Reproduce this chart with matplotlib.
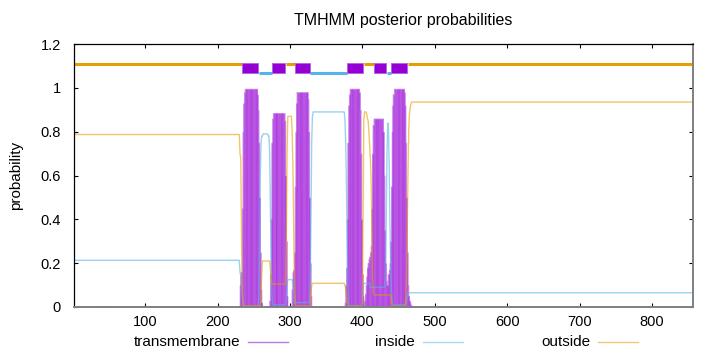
import numpy as np
import matplotlib
matplotlib.use('Agg')
import matplotlib.pyplot as plt
from matplotlib.lines import Line2D

plt.rcParams.update({
    'font.family': ['Liberation Sans', 'DejaVu Sans'],
    'font.size': 10.5,
    'xtick.direction': 'in',
    'ytick.direction': 'in',
    'xtick.top': True,
    'ytick.right': True,
    'xtick.major.size': 3,
    'ytick.major.size': 3,
})

# sequence length and predicted topology (residue ranges)
n_res = 856
outside_seg = [(1, 233), (294, 306), (402, 415), (463, 856)]
inside_seg = [(257, 274), (328, 378), (434, 439)]
tm_seg = [(234, 256), (275, 293), (307, 327), (379, 401), (416, 433), (440, 462)]

# posterior probabilities: (first residue, value) steps
tm_steps = [(1, 0), (33, 0.004), (52, 0), (231, 0.1), (232, 0.14), (233, 0.16),
            (234, 0.45), (235, 0.8), (236, 0.93), (237, 0.98), (238, 0.996),
            (255, 0.97), (256, 0.9), (257, 0.75), (258, 0.5), (259, 0.25),
            (260, 0.08), (261, 0.02), (262, 0),
            (272, 0.03), (273, 0.15), (274, 0.4), (275, 0.75), (276, 0.86),
            (277, 0.885), (293, 0.85), (294, 0.6), (295, 0.3), (296, 0.05),
            (297, 0.005), (303, 0.08), (304, 0.16), (305, 0.17), (306, 0.25),
            (307, 0.55), (308, 0.8), (309, 0.93), (310, 0.98), (325, 0.95),
            (326, 0.8), (327, 0.5), (328, 0.2), (329, 0.05), (330, 0),
            (376, 0.02), (377, 0.1), (378, 0.18), (379, 0.4), (380, 0.75),
            (381, 0.92), (382, 0.97), (383, 0.996), (396, 0.98), (397, 0.9),
            (398, 0.7), (399, 0.4), (400, 0.15), (401, 0.05), (402, 0.01),
            (403, 0.03), (404, 0.06), (405, 0.1), (406, 0.14), (407, 0.18),
            (408, 0.2), (409, 0.22), (410, 0.23), (411, 0.25), (412, 0.28),
            (413, 0.45), (414, 0.7), (415, 0.83), (416, 0.86), (429, 0.8),
            (430, 0.6), (431, 0.35), (432, 0.2), (433, 0.12), (434, 0.1),
            (436, 0.15), (437, 0.17), (438, 0.2), (439, 0.3), (440, 0.55),
            (441, 0.8), (442, 0.92), (443, 0.97), (444, 0.996), (458, 0.98),
            (459, 0.92), (460, 0.75), (461, 0.5), (462, 0.25), (463, 0.1),
            (464, 0.05), (465, 0.03), (466, 0.02), (467, 0.01), (468, 0)]

inside_steps = [(1, 0.213), (231, 0.16), (232, 0.14), (233, 0.13), (234, 0.06),
                (235, 0.02), (236, 0.003), (257, 0.05), (258, 0.3), (259, 0.6),
                (260, 0.74), (261, 0.78), (263, 0.79), (270, 0.78), (272, 0.7),
                (273, 0.45), (274, 0.2), (275, 0.06), (276, 0.01), (295, 0.05),
                (296, 0.1), (297, 0.125), (304, 0.1), (305, 0.06), (306, 0.02),
                (328, 0.1), (329, 0.4), (330, 0.75), (331, 0.87), (332, 0.89),
                (376, 0.85), (377, 0.75), (378, 0.55), (379, 0.3), (380, 0.1),
                (381, 0.02), (382, 0.005), (401, 0.08), (402, 0.108), (411, 0.09),
                (432, 0.15), (433, 0.4), (434, 0.7), (435, 0.84), (436, 0.83),
                (437, 0.65), (438, 0.4), (439, 0.2), (440, 0.08), (441, 0.03),
                (442, 0.01), (461, 0.03), (462, 0.05), (463, 0.065)]

outside_steps = [(1, 0.787), (231, 0.7), (232, 0.68), (233, 0.35), (234, 0.08),
                 (235, 0.02), (236, 0.005), (260, 0.05), (261, 0.15), (262, 0.21),
                 (273, 0.17), (274, 0.12), (275, 0.105), (295, 0.3), (296, 0.7),
                 (297, 0.87), (303, 0.8), (304, 0.65), (305, 0.4), (306, 0.15),
                 (307, 0.04), (308, 0.01), (309, 0.005), (329, 0.05), (330, 0.1),
                 (331, 0.108), (376, 0.1), (377, 0.08), (378, 0.05), (379, 0.03),
                 (380, 0.01), (381, 0.004), (401, 0.4), (402, 0.85), (403, 0.89),
                 (406, 0.88), (407, 0.86), (408, 0.85), (409, 0.8), (410, 0.74),
                 (411, 0.68), (412, 0.6), (413, 0.4), (414, 0.15), (415, 0.07),
                 (416, 0.055), (440, 0.03), (441, 0.004), (460, 0.03), (461, 0.15),
                 (462, 0.35), (463, 0.6), (464, 0.8), (465, 0.88), (466, 0.91),
                 (467, 0.925), (468, 0.935)]


def expand(steps, n):
    vals = np.zeros(n)
    for i, (start, v) in enumerate(steps):
        end = steps[i + 1][0] if i + 1 < len(steps) else n + 1
        vals[start - 1:end - 1] = v
    return vals


res = np.arange(1, n_res + 1)
tm = expand(tm_steps, n_res)
inside = expand(inside_steps, n_res)
outside = expand(outside_steps, n_res)

c_tm = '#9400d3'
c_in = '#56b4e9'
c_out = '#e69f00'

fig = plt.figure(figsize=(7.2, 3.52), dpi=100)
ax = fig.add_axes([73.5 / 720, 45 / 352, 619 / 720, 263 / 352])

# impulses: soft body plus thin strokes per residue
ax.fill_between(res, 0, tm, step='mid', color='#b346e0', lw=0.6,
                edgecolor='#c57ce8')
ax.vlines(res[::3], 0, tm[::3], color='#dcb0f2', alpha=0.6, lw=0.35)
ax.vlines(res[1::7], 0, tm[1::7], color=c_tm, alpha=0.5, lw=0.35)
ax.plot(res, inside, color=c_in, lw=1.0, alpha=0.6)
ax.plot(res, outside, color=c_out, lw=1.0, alpha=0.6)

# topology bar at the top
for a, b in outside_seg:
    ax.hlines(1.109, a, b + 1, color=c_out, lw=2.2)
for a, b in inside_seg:
    ax.hlines(1.069, a, b + 1, color=c_in, lw=2.2)
ax.broken_barh([(a, b - a) for a, b in tm_seg], (1.066, 0.046),
               facecolor=c_tm, edgecolor='#b060e0', lw=0.6, zorder=3)

ax.set_xlim(1, n_res)
ax.set_ylim(0, 1.2)
ax.set_xticks([100, 200, 300, 400, 500, 600, 700, 800])
ax.set_yticks([0, 0.2, 0.4, 0.6, 0.8, 1, 1.2])
ax.set_yticklabels(['0', '0.2', '0.4', '0.6', '0.8', '1', '1.2'])
ax.tick_params(axis='x', pad=6)
ax.tick_params(axis='y', pad=9)
ax.set_ylabel('probability', labelpad=13, fontsize=11)
for s in ['left', 'top']:
    ax.spines[s].set_linewidth(0.9)
for s in ['bottom', 'right']:
    ax.spines[s].set_color('#808080')
    ax.spines[s].set_linewidth(1.4)

fig.text(403 / 720, 1 - 20 / 352, 'TMHMM posterior probabilities',
         ha='center', va='center', fontsize=11.5)

# key below the plot, gnuplot style (label then sample)
labels = ['transmembrane', 'inside', 'outside']
colors = ['#b57ee2', c_in, c_out]
alphas = [1.0, 0.5, 0.55]
for i, (lab, c, al) in enumerate(zip(labels, colors, alphas)):
    xt = 240 + 175 * i
    fig.text(xt / 720, 1 - 342 / 352, lab, ha='right', va='center', fontsize=11)
    fig.add_artist(Line2D([(xt + 8) / 720, (xt + 48) / 720],
                          [1 - 342 / 352, 1 - 342 / 352],
                          transform=fig.transFigure, color=c, alpha=al, lw=1.0))

fig.savefig('out.png', dpi=100)
